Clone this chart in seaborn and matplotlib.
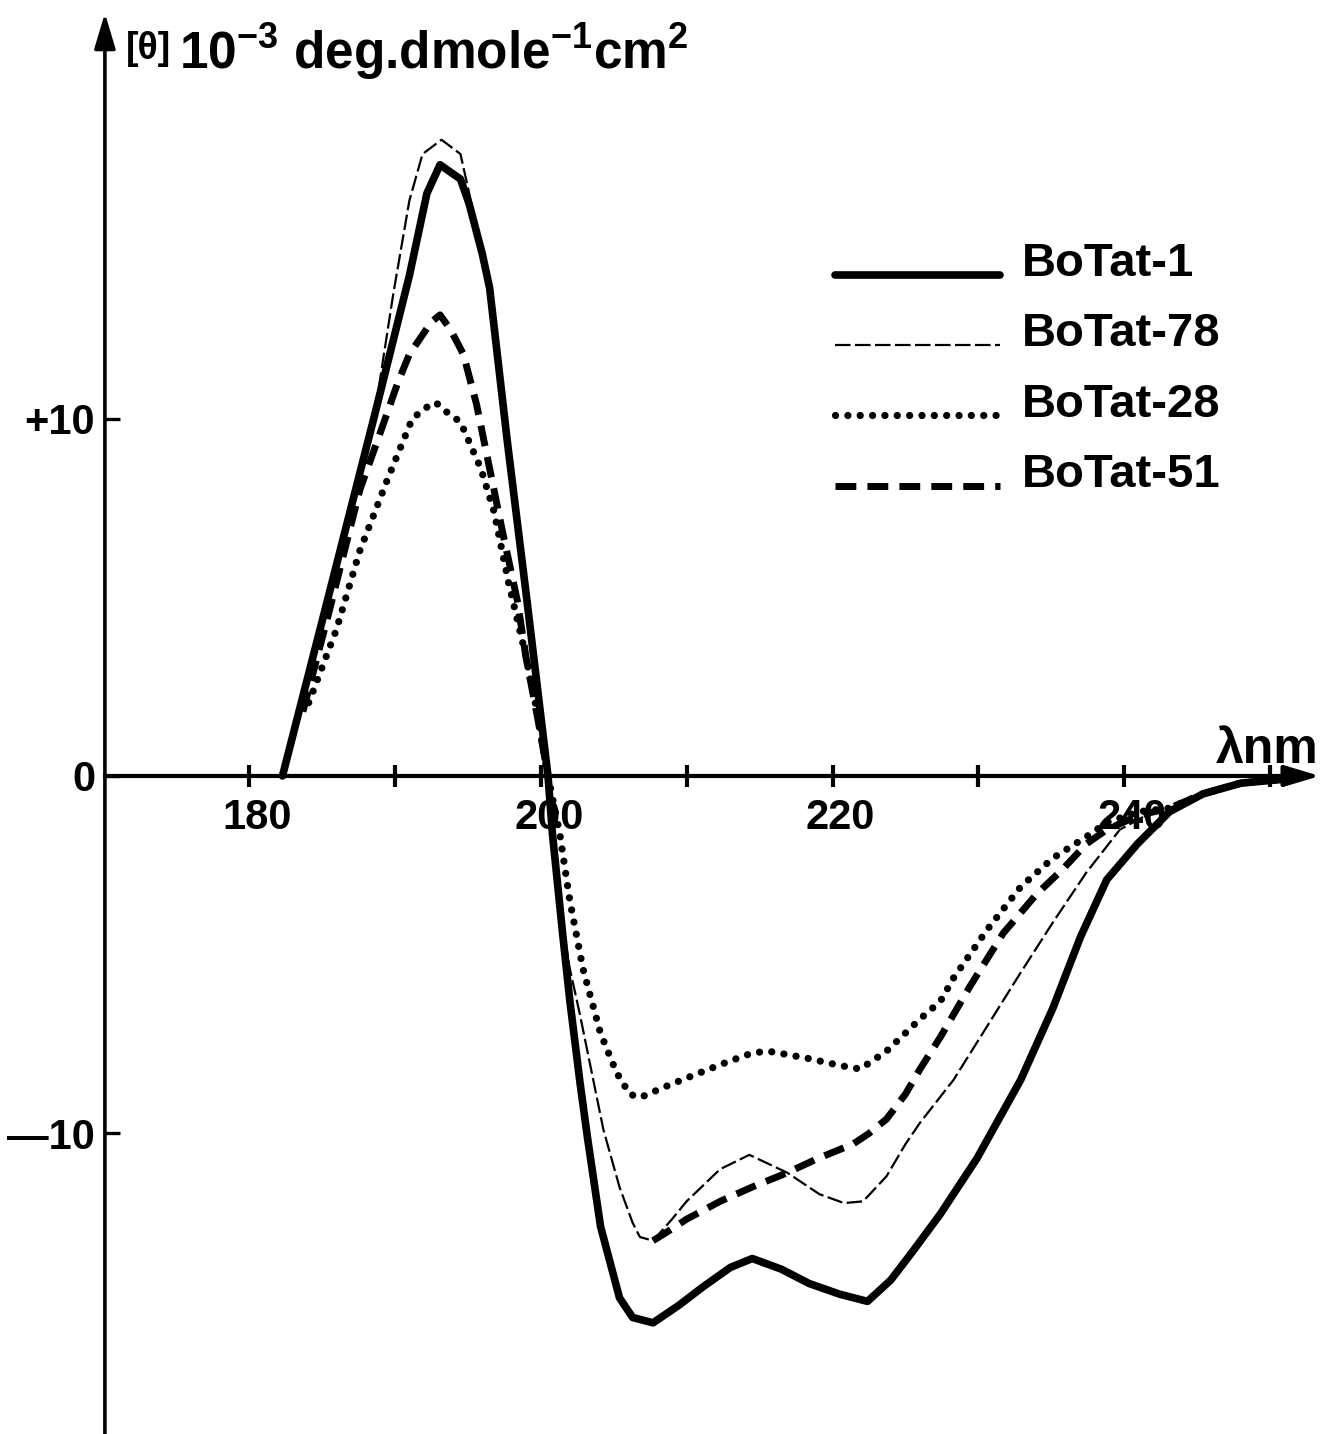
import numpy as np
import pandas as pd
import matplotlib
matplotlib.use("Agg")
import matplotlib.pyplot as plt
import matplotlib.transforms as mtransforms
from matplotlib.legend_handler import HandlerLine2D
import seaborn as sns

# ---------------- data ----------------
series_names = ["BoTat-1", "BoTat-78", "BoTat-28", "BoTat-51"]

lam_1 = [182.3, 185.0, 188.6, 191.0, 192.2, 193.1, 194.5, 195.1, 196.0, 196.5, 197.7,
         199.06, 200.5, 200.8, 201.5, 202.0, 202.7, 203.2, 204.1, 205.4, 206.3, 207.7,
         209.5, 211.1, 213.0, 214.5, 216.5, 218.4, 220.5, 222.4, 224.0, 225.5, 227.4,
         229.9, 232.9, 235.1, 237.0, 238.8, 240.9, 243.1, 245.4, 248.0, 252.0]
val_1 = [0.0, 4.3, 10.07, 14.0, 16.3, 17.1, 16.7, 16.0, 14.6, 13.65, 9.4,
         4.9, 0.0, -1.6, -4.4, -6.3, -8.6, -10.1, -12.6, -14.6, -15.15, -15.3,
         -14.8, -14.3, -13.75, -13.5, -13.8, -14.2, -14.5, -14.7, -14.1, -13.3, -12.25,
         -10.7, -8.5, -6.5, -4.5, -2.9, -1.9, -1.0, -0.5, -0.2, -0.05]

lam_78 = [182.3, 185.0, 188.6, 189.9, 191.0, 191.9, 193.2, 194.5, 195.1, 196.0, 196.5,
          197.7, 199.06, 200.5, 200.8, 201.5, 202.0, 202.7, 203.5, 204.3, 205.4, 206.3,
          206.8, 207.7, 209.0, 210.0, 212.3, 214.3, 216.9, 219.1, 220.8, 222.1, 223.7,
          225.0, 226.0, 228.3, 230.6, 232.9, 235.1, 237.4, 239.7, 241.5, 243.1, 245.4,
          248.0, 252.0]
val_78 = [0.0, 4.3, 10.07, 13.5, 16.1, 17.4, 17.8, 17.4, 16.3, 14.6, 13.65,
          9.4, 4.9, 0.0, -1.6, -4.2, -5.4, -6.7, -8.3, -9.9, -11.5, -12.5,
          -12.9, -13.0, -12.4, -11.9, -11.0, -10.6, -11.1, -11.7, -11.95, -11.9, -11.2,
          -10.3, -9.7, -8.5, -7.0, -5.5, -4.1, -2.7, -1.5, -1.1, -0.9, -0.5,
          -0.2, -0.05]

lam_28 = [184.1, 186.0, 187.6, 189.5, 191.2, 192.3, 192.8, 193.5, 194.5, 195.9, 196.8,
          197.8, 198.9, 199.7, 200.5, 201.3, 202.0, 202.9, 204.1, 205.2, 206.1, 206.8,
          208.5, 210.0, 212.8, 214.5, 215.6, 218.3, 220.5, 221.9, 223.7, 226.0, 227.4,
          228.3, 230.6, 232.9, 235.1, 237.4, 238.8, 241.0, 243.1, 245.4, 248.0, 252.0]
val_28 = [2.05, 4.1, 6.3, 8.3, 10.0, 10.35, 10.45, 10.2, 9.9, 8.6, 7.4,
          5.4, 3.5, 1.9, 0.0, -1.6, -3.5, -5.4, -7.2, -8.3, -8.9, -9.0,
          -8.7, -8.45, -8.0, -7.75, -7.7, -7.9, -8.1, -8.2, -7.7, -6.8, -6.3,
          -5.65, -4.3, -3.1, -2.3, -1.7, -1.3, -1.0, -0.9, -0.5, -0.2, -0.05]

# BoTat-51: between 200.5 and 207.7 nm it coincides with BoTat-78 (drawn once there)
lam_51_pos = [183.7, 185.5, 187.6, 189.0, 190.2, 191.0, 192.5, 193.1, 193.8, 194.7,
              195.6, 196.5, 197.4, 198.4, 199.0, 199.8, 200.5]
val_51_pos = [1.8, 4.6, 8.0, 9.6, 11.0, 11.8, 12.7, 12.9, 12.5, 11.8,
              10.4, 8.6, 6.8, 4.9, 3.3, 1.6, 0.0]
lam_51_neg = [207.7, 208.5, 210.0, 212.3, 214.5, 216.9, 219.0, 221.4, 222.5, 223.7,
              225.0, 226.0, 227.4, 229.4, 231.7, 234.0, 235.8, 237.4, 238.8, 241.0,
              243.1, 245.4, 248.0, 252.0]
val_51_neg = [-13.0, -12.8, -12.4, -11.9, -11.5, -11.1, -10.7, -10.3, -10.0, -9.6,
              -8.9, -8.2, -7.3, -5.9, -4.4, -3.3, -2.6, -1.9, -1.5, -1.1,
              -0.9, -0.5, -0.2, -0.05]

x_major_ticks = [180, 200, 220, 240]
x_minor_ticks = [190, 210, 230, 250]
y_ticks = [-10, 0, 10]
y_tick_labels = ["\u201410", "0", "+10"]

# ---------------- style ----------------
sns.set_theme(style="white")
plt.rcParams["font.family"] = ["Liberation Sans", "DejaVu Sans"]
plt.rcParams["font.weight"] = "bold"
plt.rcParams["mathtext.default"] = "regular"
for k in ["text.color", "xtick.color", "ytick.color", "axes.labelcolor"]:
    plt.rcParams[k] = "black"

W, H = 1322, 1434
fig = plt.figure(figsize=(W / 100, H / 100), dpi=100)
ax = fig.add_axes([0, 0, 1, 1])
ax.set_facecolor("white")

# pixel -> data calibration of the reference
XMIN, XMAX = 162.94, 253.55
YMIN, YMAX = -18.41, 21.71
X_AXIS = 170.13
ax.set_xlim(XMIN, XMAX)
ax.set_ylim(YMIN, YMAX)

sns.lineplot(x=lam_1, y=val_1, ax=ax, color="black", linewidth=5.5,
             solid_capstyle="round", solid_joinstyle="round", label=series_names[0],
             sort=False, estimator=None)
sns.lineplot(x=lam_78, y=val_78, ax=ax, color="black", linewidth=1.6,
             linestyle=(0, (7, 2)), label=series_names[1], sort=False, estimator=None)
sns.lineplot(x=lam_28, y=val_28, ax=ax, color="black", linewidth=5.2,
             linestyle=(0, (0.01, 1.7)), dash_capstyle="round",
             label=series_names[2], sort=False, estimator=None)
sns.lineplot(x=lam_51_pos, y=val_51_pos, ax=ax, color="black", linewidth=5.0,
             linestyle=(0, (3.0, 1.6)), label=series_names[3], sort=False, estimator=None)
sns.lineplot(x=lam_51_neg, y=val_51_neg, ax=ax, color="black", linewidth=5.0,
             linestyle=(0, (3.0, 1.6)), sort=False, estimator=None)

# axes as arrows
for s in ax.spines.values():
    s.set_visible(False)
ax.spines["left"].set_position(("data", X_AXIS))
ax.spines["bottom"].set_position(("data", 0))
ax.annotate("", xy=(X_AXIS, 21.34), xytext=(X_AXIS, YMIN),
            arrowprops=dict(arrowstyle="-|>,head_length=0.6,head_width=0.18",
                            lw=2.6, color="black", mutation_scale=36,
                            shrinkA=0, shrinkB=0), annotation_clip=False)
ax.annotate("", xy=(253.4, 0), xytext=(X_AXIS, 0),
            arrowprops=dict(arrowstyle="-|>,head_length=0.6,head_width=0.18",
                            lw=3.0, color="black", mutation_scale=36,
                            shrinkA=0, shrinkB=0), annotation_clip=False)

ax.set_xticks(x_major_ticks)
ax.set_xticklabels([str(t) for t in x_major_ticks])
ax.set_xticks(x_minor_ticks, minor=True)
ax.tick_params(axis="x", which="both", direction="inout", length=16, width=3,
               pad=8, labelsize=30, bottom=True, top=False)
ax.set_yticks(y_ticks)
ax.set_yticklabels(y_tick_labels)
ax.tick_params(axis="y", direction="in", length=11, width=2.4, pad=7,
               labelsize=30, left=True, right=False)
for lbl in ax.get_xticklabels() + ax.get_yticklabels():
    lbl.set_fontweight("bold")
shift = mtransforms.ScaledTranslation(8 / 100, 0, fig.dpi_scale_trans)
for lbl in ax.get_xticklabels():
    lbl.set_transform(lbl.get_transform() + shift)
ax.grid(False)

# texts
ax.text(253.3, 0.35, "\u03bbnm", ha="right", va="baseline", fontsize=36,
        fontweight="bold")
fig.text(126 / W, 1 - 59 / H, "[\u03b8]", fontsize=27, fontweight="bold",
         va="baseline", ha="left")
fig.text(179 / W, 1 - 69 / H, r"10$^{-3}$ deg.dmole$^{-1}$cm$^{2}$", fontsize=37,
         fontweight="bold", va="baseline", ha="left")


class LowLineHandler(HandlerLine2D):
    """Legend sample drawn near the text baseline, as in the figure."""
    def create_artists(self, legend, orig_handle, xdescent, ydescent, width,
                       height, fontsize, trans):
        arts = super().create_artists(legend, orig_handle, xdescent, ydescent,
                                      width, height, fontsize, trans)
        for a in arts:
            a.set_ydata(np.asarray(a.get_ydata(), dtype=float) - 0.32 * fontsize)
        return arts


handles, labels = ax.get_legend_handles_labels()
leg = ax.legend(handles, labels, loc="upper left",
                bbox_to_anchor=(835 / W, 1 - 242 / H),
                frameon=False, prop=dict(family="Liberation Sans", weight="bold", size=34),
                handlelength=3.5, handletextpad=0.45, labelspacing=0.56,
                borderpad=0, borderaxespad=0,
                handler_map={h: LowLineHandler() for h in handles})

fig.savefig("out.png", dpi=100)
